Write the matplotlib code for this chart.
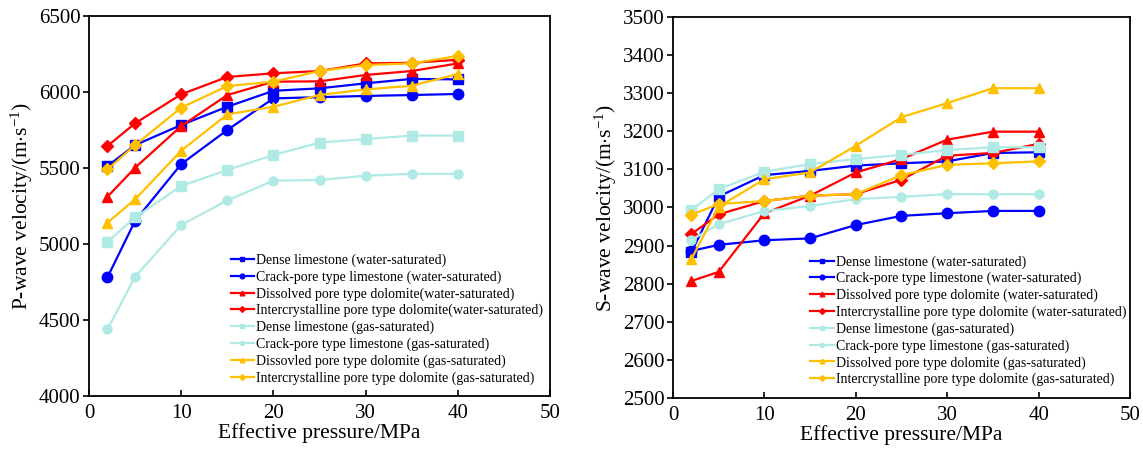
import matplotlib
matplotlib.use("Agg")
import matplotlib.pyplot as plt

plt.rcParams["font.family"] = ["Liberation Serif", "DejaVu Serif"]
plt.rcParams["mathtext.fontset"] = "custom"
plt.rcParams["mathtext.rm"] = "Liberation Serif"
plt.rcParams["mathtext.it"] = "Liberation Serif:italic"

pressure = [2, 5, 10, 15, 20, 25, 30, 35, 40]

labels_p = [
    "Dense limestone (water-saturated)",
    "Crack-pore type limestone (water-saturated)",
    "Dissolved pore type dolomite(water-saturated)",
    "Intercrystalline pore type dolomite(water-saturated)",
    "Dense limestone (gas-saturated)",
    "Crack-pore type limestone (gas-saturated)",
    "Dissovled pore type dolomite (gas-saturated)",
    "Intercrystalline pore type dolomite (gas-saturated)",
]
labels_s = [
    "Dense limestone (water-saturated)",
    "Crack-pore type limestone (water-saturated)",
    "Dissolved pore type dolomite (water-saturated)",
    "Intercrystalline pore type dolomite (water-saturated)",
    "Dense limestone (gas-saturated)",
    "Crack-pore type limestone (gas-saturated)",
    "Dissolved pore type dolomite (gas-saturated)",
    "Intercrystalline pore type dolomite (gas-saturated)",
]

# P-wave velocity (m/s)
vp_dense_water = [5513, 5651, 5783, 5903, 6008, 6024, 6057, 6086, 6083]
vp_crack_water = [4781, 5153, 5526, 5750, 5958, 5966, 5974, 5980, 5987]
vp_dissolved_water = [5311, 5502, 5776, 5980, 6068, 6070, 6112, 6138, 6188]
vp_intercryst_water = [5645, 5794, 5985, 6099, 6123, 6138, 6188, 6192, 6212]
vp_dense_gas = [5015, 5175, 5382, 5487, 5586, 5667, 5691, 5713, 5713]
vp_crack_gas = [4439, 4785, 5125, 5287, 5417, 5421, 5449, 5462, 5462]
vp_dissolved_gas = [5140, 5294, 5614, 5853, 5903, 5980, 6017, 6041, 6118]
vp_intercryst_gas = [5491, 5651, 5897, 6039, 6068, 6138, 6178, 6188, 6237]

# S-wave velocity (m/s)
vs_dense_water = [2882, 3029, 3085, 3096, 3110, 3116, 3121, 3143, 3145]
vs_crack_water = [2886, 2902, 2914, 2919, 2954, 2978, 2985, 2991, 2991]
vs_dissolved_water = [2807, 2831, 2985, 3031, 3092, 3127, 3178, 3199, 3199]
vs_intercryst_water = [2930, 2982, 3017, 3031, 3035, 3073, 3136, 3143, 3167]
vs_dense_gas = [2993, 3048, 3094, 3114, 3127, 3138, 3151, 3158, 3158]
vs_crack_gas = [2915, 2956, 2991, 3004, 3022, 3028, 3035, 3035, 3035]
vs_dissolved_gas = [2864, 3002, 3074, 3092, 3162, 3237, 3274, 3313, 3313]
vs_intercryst_gas = [2981, 3009, 3017, 3031, 3035, 3085, 3112, 3116, 3121]

BLUE = "#0000FF"
RED = "#FF0000"
CYAN = "#AFEAE4"
GOLD = "#FFC000"
styles = [
    (BLUE, "s", 6.5),
    (BLUE, "o", 7.5),
    (RED, "^", 7.5),
    (RED, "D", 6.5),
    (CYAN, "s", 6.5),
    (CYAN, "o", 6.5),
    (GOLD, "^", 7.5),
    (GOLD, "D", 6.5),
]

vp_series = [vp_dense_water, vp_crack_water, vp_dissolved_water, vp_intercryst_water,
             vp_dense_gas, vp_crack_gas, vp_dissolved_gas, vp_intercryst_gas]
vs_series = [vs_dense_water, vs_crack_water, vs_dissolved_water, vs_intercryst_water,
             vs_dense_gas, vs_crack_gas, vs_dissolved_gas, vs_intercryst_gas]

fig = plt.figure(figsize=(11.43, 4.53), dpi=100)
ax1 = fig.add_axes([0.0779, 0.1258, 0.4033, 0.8389])
ax2 = fig.add_axes([0.5888, 0.1214, 0.3998, 0.8411])


def draw(ax, series, labels, ylim, yticks, ylabel, legend_anchor):
    for vals, lab, (c, m, ms) in zip(series, labels, styles):
        ax.plot(pressure, vals, color=c, marker=m, markersize=ms, lw=1.6,
                label=lab)
    ax.set_xlim(0, 50)
    ax.set_ylim(*ylim)
    ax.set_xticks([0, 10, 20, 30, 40, 50])
    ax.set_yticks(yticks)
    ax.tick_params(axis="x", direction="in", length=4, width=1.2,
                   labelsize=15, pad=6)
    ax.tick_params(axis="y", direction="out", length=4, width=1.2,
                   labelsize=15, pad=2)
    for sp in ax.spines.values():
        sp.set_linewidth(1.3)
    ax.set_xlabel("Effective pressure/MPa", fontsize=15.5, labelpad=0)
    ax.set_ylabel(ylabel, fontsize=15.5, labelpad=3)
    ax.legend(loc="upper left", bbox_to_anchor=legend_anchor, frameon=False,
              fontsize=10, handlelength=1.7, handletextpad=0.15,
              labelspacing=0.24, borderpad=0, borderaxespad=0,
              markerscale=0.45)


draw(ax1, vp_series, labels_p, (4000, 6500), range(4000, 6501, 500),
     r"P-wave velocity/(m$\cdot$s$^{-1}$)", (0.307, 0.375))
draw(ax2, vs_series, labels_s, (2500, 3500), range(2500, 3501, 100),
     r"S-wave velocity/(m$\cdot$s$^{-1}$)", (0.30, 0.375))

fig.savefig("out.png", dpi=100)
